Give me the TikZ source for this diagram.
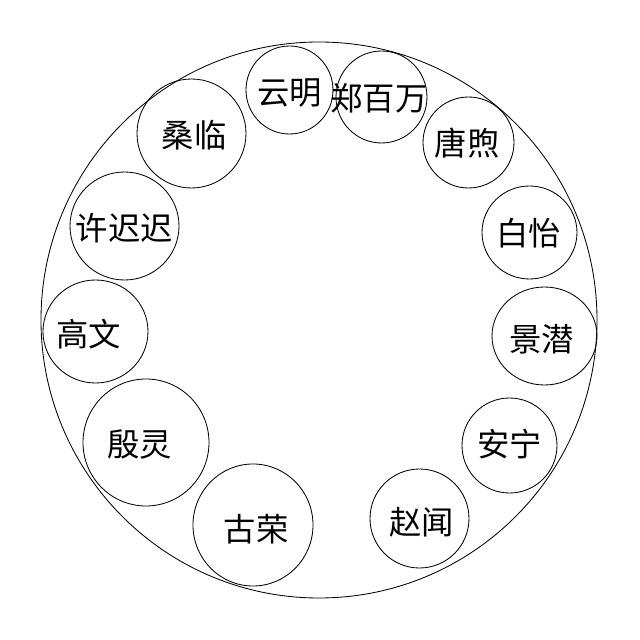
\documentclass[tikz,border=0pt]{standalone}
\usepackage{fontspec}
\setmainfont{Noto Sans CJK SC}
\begin{document}
\begin{tikzpicture}[x=0.025cm, y=0.025cm, line width=0.6pt,
    every node/.style={inner sep=0pt, font=\fontsize{23}{23}\selectfont}]
    \useasboundingbox (0, 0) rectangle (640, 640);
     \draw(319, 320) circle (278);

        \draw(289.5, 550) ellipse (43.5 and 44);
        \draw(381.5, 543) ellipse (45.5 and 46);
        \draw(468.5, 497.5) ellipse (45.5 and 45.5);
        \draw(529.5, 407.5) ellipse (47.5 and 46.5);
        \draw(544.5, 304) ellipse (52.5 and 49);
        \draw(509.5, 194.5) ellipse (47.5 and 47.5);
        \draw(419.5, 121.5) ellipse (49.5 and 49.5);
        \draw(253, 115) ellipse (60 and 61);
        \draw(146, 197.5) ellipse (63 and 63.5);
        \draw(95.5, 308.5) ellipse (52.5 and 51.5);
        \draw(124.5, 414) ellipse (54.5 and 54);
        \draw(191.5, 506.5) ellipse (54.5 and 54.5);

        \node (yunming) at(289.5, 546.5){云明};
        \node (zhengbaiwan) at(379, 541.5){郑百万};
        \node (tangxu) at(467, 497){唐煦};
        \node (baiyi) at(528.5, 406.5){白怡};
        \node (jingqian) at(541.5, 301){景潜};
        \node (anning) at(509.5, 196){安宁};
        \node (zhaowen) at(421.5, 118){赵闻};
        \node (gurong) at(256, 111){古荣};
        \node (yinling) at(139.5, 195.5){殷灵};
        \node (gaowen) at(89, 306){高文};
        \node (xuchichi) at(124.5, 412){许迟迟};
        \node (sanglin) at(194, 505){桑临};
    \end{tikzpicture}
\end{document}
